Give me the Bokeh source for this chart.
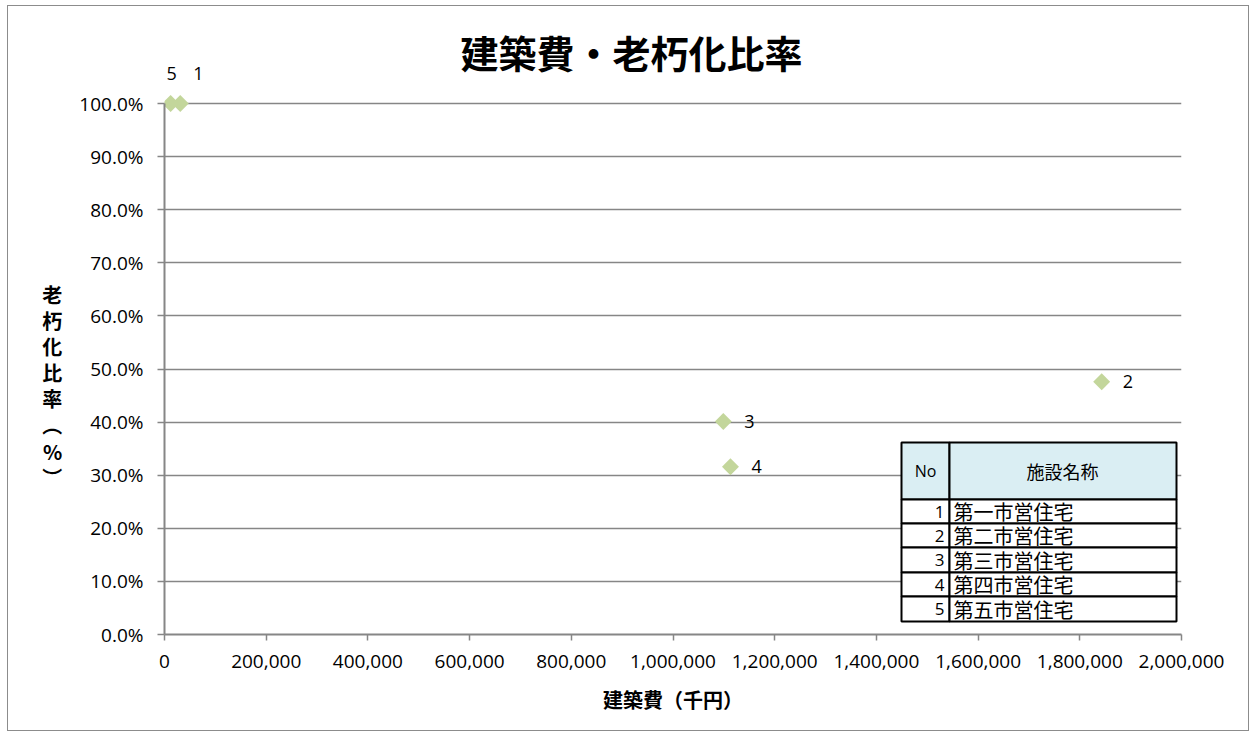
from bokeh.plotting import figure
from bokeh.models import (ColumnDataSource, LabelSet, Label, NumeralTickFormatter,
                          FixedTicker, Range1d)
from bokeh.core.properties import value
from bokeh.embed import file_html
from bokeh.resources import INLINE

# ---- data ----
ids = ["1", "2", "3", "4", "5"]
cost = [31000, 1843000, 1099000, 1113000, 12000]          # 建築費（千円）
ratio = [1.00, 0.476, 0.401, 0.316, 1.00]                 # 老朽化比率
names = ["第一市営住宅", "第二市営住宅", "第三市営住宅", "第四市営住宅", "第五市営住宅"]
x_ticks = [0, 200000, 400000, 600000, 800000, 1000000, 1200000, 1400000, 1600000, 1800000, 2000000]
y_ticks = [0.0, 0.1, 0.2, 0.3, 0.4, 0.5, 0.6, 0.7, 0.8, 0.9, 1.0]

# ---- layout ----
OX, OY = 8, 6                          # page position of plot content
W, H = 1242, 726
FL, FR, FT, FB = 164, 1181, 103, 634   # page px of x=0, x=max, y=100%, y=0%
TOP = 6                                # page px of frame top
XMAX = 2000000

def px_x(px):
    return (px - FL) / (FR - FL) * XMAX

def px_y(py):
    return (FB - py) / (FB - FT)

JP = "Noto Sans CJK JP"
NUM = "Open Sans"

p = figure(width=W, height=H, output_backend="svg", toolbar_location=None,
           x_range=Range1d(0, XMAX), y_range=Range1d(0, px_y(TOP)),
           min_border_left=FL - OX, min_border_right=OX + W - FR,
           min_border_top=TOP - OY, min_border_bottom=OY + H - FB,
           background_fill_color="white", border_fill_color="white")
p.title.text = ""
p.outline_line_color = None

# axes
p.xaxis.ticker = FixedTicker(ticks=x_ticks)
p.yaxis.ticker = FixedTicker(ticks=y_ticks)
p.yaxis.bounds = (0, 1)
p.xaxis.formatter = NumeralTickFormatter(format="0,0")
p.yaxis.formatter = NumeralTickFormatter(format="0.0%")
for ax in (p.xaxis, p.yaxis):
    ax.axis_line_color = "#868686"
    ax.axis_line_width = 2
    ax.major_tick_line_color = "#868686"
    ax.major_tick_line_width = 1.5
    ax.major_tick_in = 0
    ax.minor_tick_line_color = None
    ax.major_label_text_font = NUM
    ax.major_label_text_font_size = "19px"
    ax.major_label_text_color = "#000000"
    ax.axis_label_text_font = JP
    ax.axis_label_text_font_style = "bold"
    ax.axis_label_text_color = "#000000"
p.xaxis.major_tick_out = 6
p.yaxis.major_tick_out = 7
p.xaxis.major_label_standoff = 14
p.yaxis.major_label_standoff = 14
p.xaxis.axis_label = "建築費（千円）"
p.xaxis.axis_label_text_font_size = "20px"
p.xaxis.axis_label_standoff = 14
# vertical (stacked) label; leading blank lines move it down to the 0–100% span centre
p.yaxis.axis_label = "\n" * 5 + "\n".join(list("老朽化比率︵%︶"))
p.yaxis.axis_label_text_font_size = "20px"
p.yaxis.axis_label_orientation = "horizontal"
p.yaxis.axis_label_text_line_height = 0.9
p.yaxis.axis_label_standoff = 14
p.xgrid.grid_line_color = None
p.ygrid.grid_line_color = "#868686"
p.ygrid.grid_line_width = 1.5

# points
src = ColumnDataSource(dict(x=cost, y=ratio, id=ids,
                            xo=[13, 21, 21, 21, -4], yo=[30, 0, 0, 0, 30]))
p.scatter("x", "y", source=src, marker="square", angle=0.785398, size=12,
          fill_color="#C3D69B", line_color=None)
p.add_layout(LabelSet(x="x", y="y", text="id", source=src, x_offset="xo", y_offset="yo",
                      text_font=value(NUM), text_font_size="18px", text_color="#000000",
                      text_align="left", text_baseline="middle"))

# title
p.add_layout(Label(x=px_x(631), y=px_y(51), text="建築費・老朽化比率",
                   text_font=JP, text_font_style="bold", text_font_size="38px",
                   text_align="center", text_baseline="middle", text_color="#000000"))

# table (legend of facility names)
TX = [901, 949, 1176]
TY = [442, 499, 523, 547, 572, 596, 621]
cells_l, cells_r, cells_t, cells_b, fills = [], [], [], [], []
for r in range(len(TY) - 1):
    for c in range(2):
        cells_l.append(px_x(TX[c])); cells_r.append(px_x(TX[c + 1]))
        cells_t.append(px_y(TY[r])); cells_b.append(px_y(TY[r + 1]))
        fills.append("#DAEEF3" if r == 0 else "#FFFFFF")
p.quad(left=cells_l, right=cells_r, top=cells_t, bottom=cells_b,
       fill_color=fills, line_color="#000000", line_width=2)
p.text(x=[px_x(925)], y=[px_y(470)], text=["No"], text_font=value(NUM),
       text_font_size="16px", text_align="center", text_baseline="middle", text_color="#000000")
p.text(x=[px_x(1062)], y=[px_y(470)], text=["施設名称"], text_font=value(JP),
       text_font_size="18px", text_align="center", text_baseline="middle", text_color="#000000")
row_y = [px_y((TY[i + 1] + TY[i + 2]) / 2) for i in range(len(ids))]
p.text(x=[px_x(944)] * len(ids), y=row_y, text=ids, text_font=value(NUM),
       text_font_size="17px", text_align="right", text_baseline="middle", text_color="#000000")
p.text(x=[px_x(953)] * len(names), y=row_y, text=names, text_font=value(JP),
       text_font_size="20px", text_align="left", text_baseline="middle", text_color="#000000")

# outer border of the whole chart
p.styles = {"border": "1px solid #8c8c8c", "margin-left": "7px", "margin-top": "5px"}

open("out.html", "w").write(file_html(p, INLINE))
